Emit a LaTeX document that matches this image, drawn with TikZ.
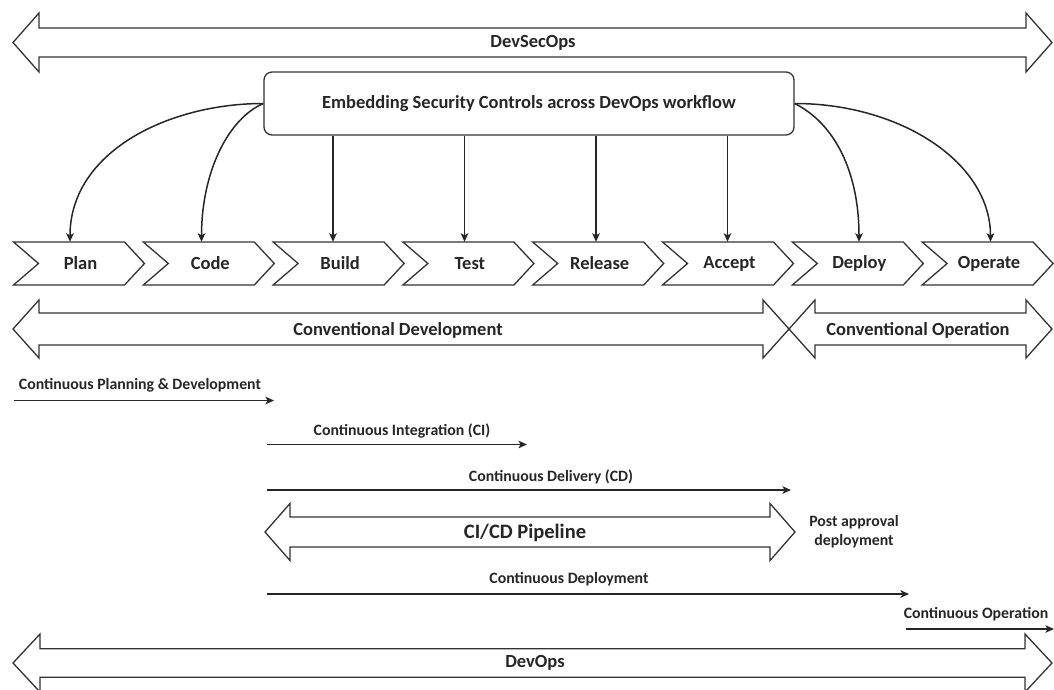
\documentclass[tikz,border=0pt]{standalone}
\usepackage{fontspec}
\setmainfont{Carlito}
\usetikzlibrary{arrows.meta}
\tikzset{
  blockarr/.style={draw=black!80, line width=1.3pt, fill=white},
  chevline/.style={draw=black!80, line width=1.3pt, fill=white},
  lbl/.style={font=\bfseries\fontsize{18.5}{20}\selectfont, inner sep=0pt, text=black!85},
  small/.style={font=\bfseries\fontsize{15.8}{19}\selectfont, inner sep=0pt, text=black!85},
  arr/.style={draw=black!85, line width=1.5pt, -{Stealth[length=8.5pt,width=7.5pt,inset=2pt]}},
  embbox/.style={draw=black!80, line width=1.3pt, rounded corners=8pt, minimum width=530pt, minimum height=63pt, inner sep=0pt, font=\bfseries\fontsize{18.5}{20}\selectfont, text=black!85}
}
\newcommand\dblarrow[6]{% x1,x2,c,s,h,L
  \draw[blockarr] (#1,#3) -- (#1+#6,#3-#5) -- (#1+#6,#3-#4) -- (#2-#6,#3-#4) -- (#2-#6,#3-#5) -- (#2,#3) -- (#2-#6,#3+#5) -- (#2-#6,#3+#4) -- (#1+#6,#3+#4) -- (#1+#6,#3+#5) -- cycle;}
\newcommand\chev[3]{% index, name, text
  \pgfmathsetmacro\cx{13.5+#1*129.8}
  \draw[chevline] (\cx,242) -- (\cx+111,242) -- (\cx+131,263.5) -- (\cx+111,285) -- (\cx,285) -- (\cx+25,263.5) -- cycle;
  \node[lbl, minimum height=43pt, minimum width=80pt] (#2) at (\cx+67,263.5) {#3};}
\begin{document}
\begin{tikzpicture}[x=1pt,y=-1pt]
\useasboundingbox (0,0) rectangle (1054,690);
% top DevSecOps
\dblarrow{13}{1052}{42.5}{14.5}{29.5}{26}
\node[lbl] (devsecops) at (533,43) {DevSecOps};
% box
\node[embbox] (emb) at (529,103.5) {Embedding Security Controls across DevOps workflow};
% chevrons
\chev{0}{plan}{Plan}
\chev{1}{code}{Code}
\chev{2}{build}{Build}
\chev{3}{test}{Test}
\chev{4}{release}{Release}
\chev{5}{accept}{Accept}
\chev{6}{deploy}{Deploy}
\chev{7}{operate}{Operate}
% arrow targets
\path ([xshift=-10.5pt]plan.north) coordinate (tplan);
\path ([xshift=-8.8pt]code.north) coordinate (tcode);
\path ([xshift=-7.1pt]build.north) coordinate (tbuild);
\path ([xshift=-5.4pt]test.north) coordinate (ttest);
\path ([xshift=-3.7pt]release.north) coordinate (trelease);
\path ([xshift=-2pt]accept.north) coordinate (taccept);
\path ([xshift=-0.3pt]deploy.north) coordinate (tdeploy);
\path ([xshift=1.4pt]operate.north) coordinate (toperate);
\draw[arr] (emb.west) .. controls +(-95,0) and +(0,-90) .. (tplan);
\draw[arr] (emb.west) .. controls +(-35,15) and +(0,-70) .. (tcode);
\draw[arr] (emb.south -| tbuild) -- (tbuild);
\draw[arr] (emb.south -| ttest) -- (ttest);
\draw[arr] (emb.south -| trelease) -- (trelease);
\draw[arr] (emb.south -| taccept) -- (taccept);
\draw[arr] (emb.east) .. controls +(40,20) and +(0,-70) .. (tdeploy);
\draw[arr] (emb.east) .. controls +(105,0) and +(0,-80) .. (toperate);
% conventional
\dblarrow{13}{789}{329}{16}{29}{26}
\dblarrow{789}{1052}{329}{16}{29}{26}
\node[lbl] (cdev) at (398,330) {Conventional Development};
\node[lbl] (cop) at (918,330) {Conventional Operation};
% continuous arrows
\node[small] (cpd) at (140,385) {Continuous Planning \& Development};
\coordinate (cpdA) at (14,400.5); \coordinate (cpdB) at (274,400.5);
\draw[arr] (cpdA) -- (cpdB);
\node[small] (ci) at (402,431) {Continuous Integration (CI)};
\coordinate (ciA) at (267,444.5); \coordinate (ciB) at (527,444.5);
\draw[arr] (ciA) -- (ciB);
\node[small] (cd) at (551,477) {Continuous Delivery (CD)};
\coordinate (cdA) at (267,490); \coordinate (cdB) at (791,490);
\draw[arr] (cdA) -- (cdB);
% CI/CD pipeline
\dblarrow{265}{795}{532}{15}{28.5}{25}
\node[lbl, font=\bfseries\fontsize{20.5}{22}\selectfont] (cicd) at (525,533) {CI/CD Pipeline};
\node[small, align=center] (post) at (854,532) {Post approval\\deployment};
\node[small] (cdep) at (569,579) {Continuous Deployment};
\coordinate (cdepA) at (267,594); \coordinate (cdepB) at (909,594);
\draw[arr, line width=2pt] (cdepA) -- (cdepB);
\node[small] (cop2) at (976,614) {Continuous Operation};
\coordinate (coA) at (906,629); \coordinate (coB) at (1054,629);
\draw[arr] (coA) -- (coB);
% DevOps
\dblarrow{13}{1052}{663}{14.2}{29}{27}
\node[lbl] (devops) at (535,663) {DevOps};
\end{tikzpicture}
\end{document}
